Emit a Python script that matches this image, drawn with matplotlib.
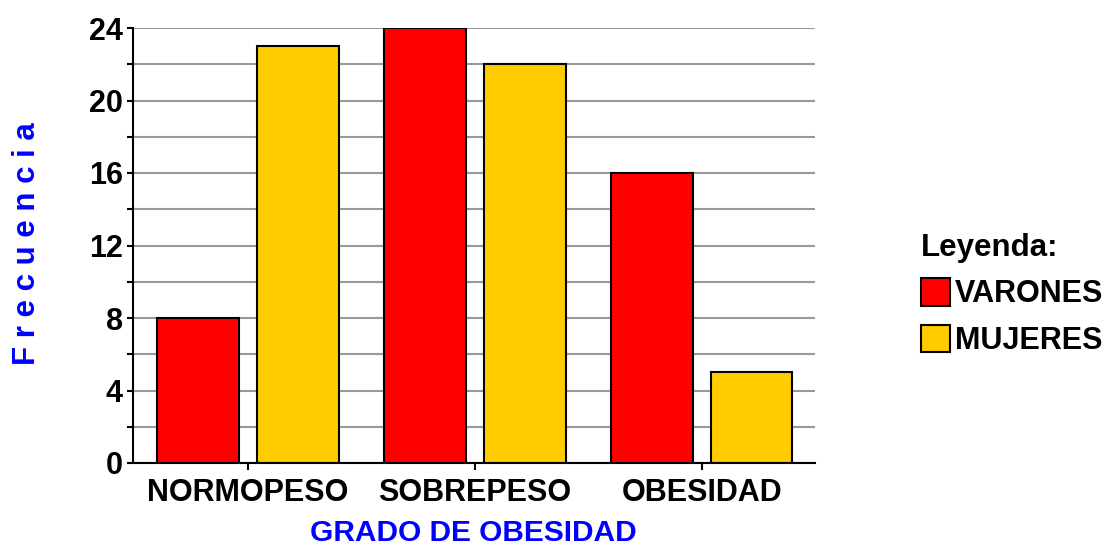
import matplotlib
matplotlib.use("Agg")
import matplotlib.pyplot as plt
import numpy as np

# datos
categorias = ["NORMOPESO", "SOBREPESO", "OBESIDAD"]
varones = [8, 24, 16]
mujeres = [23, 22, 5]
series_labels = ["VARONES", "MUJERES"]

plt.rcParams["font.family"] = ["Liberation Sans", "DejaVu Sans"]
plt.rcParams["font.weight"] = "bold"

fig = plt.figure(figsize=(11.09, 5.48), dpi=100)
W, H = 1109, 548
ax = fig.add_axes([132.5 / W, (H - 463) / H, (815 - 132.5) / W, (463 - 28) / H])

x = np.arange(len(categorias))
ancho = 0.36
b1 = ax.bar(x - 0.22, varones, ancho, color="#FF0000", edgecolor="black", linewidth=1.5, zorder=3)
b2 = ax.bar(x + 0.22, mujeres, ancho, color="#FFCC00", edgecolor="black", linewidth=1.5, zorder=3)

ax.set_xlim(-0.51, 2.5)
ax.set_ylim(0, 24)
ax.set_yticks(np.arange(0, 25, 4))
ax.set_yticks(np.arange(2, 24, 4), minor=True)
ax.set_xticks(x)
ax.set_xticklabels(categorias)

ax.grid(axis="y", which="both", color="#999999", linewidth=1.5, zorder=0)
ax.set_axisbelow(True)
for s in ["top", "right"]:
    ax.spines[s].set_visible(False)
for s in ["left", "bottom"]:
    ax.spines[s].set_linewidth(1.5)
    ax.spines[s].set_zorder(4)

ax.tick_params(axis="y", which="both", length=4, width=1.5, labelsize=22, pad=3)
ax.tick_params(axis="x", length=5, width=1.5, labelsize=22, pad=6)

# etiquetas de ejes
fig.text(473.5 / W, 1 / H, "GRADO DE OBESIDAD", color="#0000FF", fontsize=21.5,
         fontweight="bold", ha="center", va="bottom")
fig.text(27 / W, (H - 244) / H, "F r e c u e n c i a", color="#0000FF", fontsize=22.5,
         fontweight="bold", rotation=90, ha="center", va="center")

# leyenda
leg = ax.legend([b1, b2], series_labels, title="Leyenda:", loc="upper left",
                bbox_to_anchor=(921 / W, (H - 233) / H), bbox_transform=fig.transFigure,
                frameon=False, fontsize=22, title_fontproperties={"size": 22.5, "weight": "bold"},
                alignment="left", handlelength=0.95, handleheight=1.0, handletextpad=0.15,
                labelspacing=0.5, borderaxespad=0, borderpad=0)

fig.savefig("out.png", dpi=100)
